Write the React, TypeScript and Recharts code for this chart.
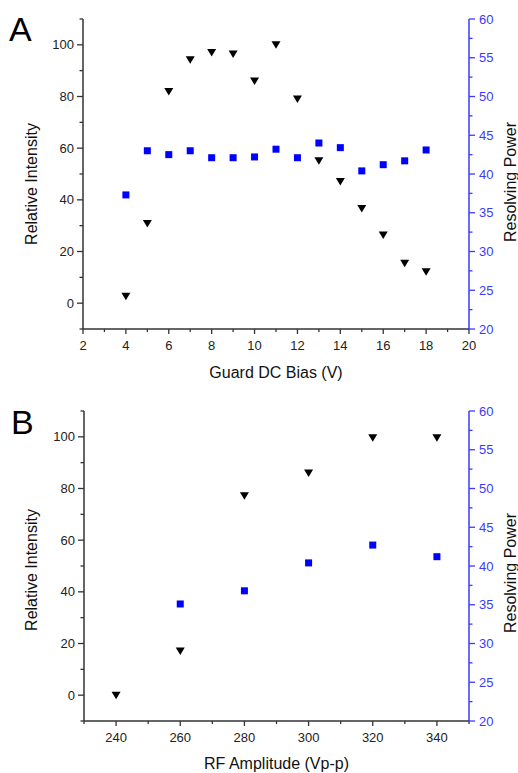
import React from "react";
import { ScatterChart, Scatter, XAxis, YAxis, Label } from "recharts";

// Panel A: guard DC bias sweep
const biasVolts = [4, 5, 6, 7, 8, 9, 10, 11, 12, 13, 14, 15, 16, 17, 18];
const biasIntensity = [2.7, 30.8, 81.9, 94.2, 97, 96.5, 86, 100, 79, 55.1, 47.1, 36.6, 26.4, 15.5, 12.2];
const biasResolving = [37.3, 43.0, 42.5, 43.0, 42.1, 42.1, 42.2, 43.2, 42.1, 44.0, 43.4, 40.4, 41.2, 41.7, 43.1];

// Panel B: RF amplitude sweep
const rfVolts = [240, 260, 280, 300, 320, 340];
const rfIntensity = [0, 17.1, 77.2, 86, 99.6, 99.6];
const rfResolving = [null, 35.1, 36.8, 40.4, 42.7, 41.2];

const biasTicks = [2, 3, 4, 5, 6, 7, 8, 9, 10, 11, 12, 13, 14, 15, 16, 17, 18, 19, 20];
const rfTicks = [230, 240, 250, 260, 270, 280, 290, 300, 310, 320, 330, 340, 350];
const intensityTicks = [-10, 0, 10, 20, 30, 40, 50, 60, 70, 80, 90, 100, 110];
const resolvingTicks = [20, 22.5, 25, 27.5, 30, 32.5, 35, 37.5, 40, 42.5, 45, 47.5, 50, 52.5, 55, 57.5, 60];

const FONT = "'Liberation Sans', Arial, sans-serif";
const AXIS = "#333";
const BLUE = "#3a3aff";

const toPoints = (xs: number[], ys: (number | null)[]) =>
  xs.map((x, i) => ({ x, y: ys[i] })).filter((p) => p.y !== null);

const Triangle = (props: any) => {
  const { cx, cy } = props;
  return (
    <polygon
      points={`${cx - 4.5},${cy - 3.5} ${cx + 4.5},${cy - 3.5} ${cx},${cy + 4}`}
      fill="#000"
    />
  );
};

const Square = (props: any) => {
  const { cx, cy } = props;
  return <rect x={cx - 3.5} y={cy - 3.5} width={7} height={7} fill="#0000ff" />;
};

function makeLeftTick(edge: number, top: number, bottom: number) {
  return (props: any) => {
    const { y, payload } = props;
    const v = payload.value;
    if (y < top - 0.5 || y > bottom + 0.5) return <g />;
    const major = v % 20 === 0;
    return (
      <g>
        <line x1={edge} x2={edge - (major ? 6 : 3.5)} y1={y} y2={y} stroke={AXIS} strokeWidth={1.3} />
        {major && v >= 0 && v <= 100 && (
          <text x={edge - 9} y={y} dy="0.35em" textAnchor="end" fontSize={13} fontFamily={FONT} fill="#222">
            {v}
          </text>
        )}
      </g>
    );
  };
}

function makeRightTick(edge: number) {
  return (props: any) => {
    const { y, payload } = props;
    const v = payload.value;
    const major = v % 5 === 0;
    return (
      <g>
        <line x1={edge} x2={edge + (major ? 6 : 3.5)} y1={y} y2={y} stroke={BLUE} strokeWidth={1.3} />
        {major && (
          <text x={edge + 10} y={y} dy="0.35em" textAnchor="start" fontSize={13} fontFamily={FONT} fill={BLUE}>
            {v}
          </text>
        )}
      </g>
    );
  };
}

function makeBottomTick(edge: number, step: number) {
  return (props: any) => {
    const { x, payload } = props;
    const v = payload.value;
    const major = v % step === 0;
    return (
      <g>
        <line x1={x} x2={x} y1={edge} y2={edge + (major ? 5 : 3)} stroke={AXIS} strokeWidth={1.3} />
        {major && (
          <text x={x} y={edge + 16} dy="0.35em" textAnchor="middle" fontSize={13} fontFamily={FONT} fill="#222">
            {v}
          </text>
        )}
      </g>
    );
  };
}

function makeTopTick(edge: number, step: number) {
  return (props: any) => {
    const { x, payload } = props;
    const major = payload.value % step === 0;
    return <line x1={x} x2={x} y1={edge} y2={edge + (major ? 6 : 3)} stroke={AXIS} strokeWidth={1.3} />;
  };
}

const xTitle = (text: string, dy: number) => (props: any) => {
  const vb = props.viewBox;
  return (
    <text x={vb.x + vb.width / 2} y={vb.y + dy} dy="0.35em" textAnchor="middle" fontSize={16} fontFamily={FONT} fill="#111">
      {text}
    </text>
  );
};

const yTitle = (text: string, cx: number, cy: number) => () => (
  <text
    x={cx}
    y={cy}
    dy="0.35em"
    textAnchor="middle"
    fontSize={16}
    fontFamily={FONT}
    fill="#111"
    transform={`rotate(-90, ${cx}, ${cy})`}
  >
    {text}
  </text>
);

interface PanelProps {
  letter: string;
  height: number;
  top: number;
  left: number;
  xHeight: number;
  xDomain: [number, number];
  xTicks: number[];
  xStep: number;
  xLabel: string;
  xLabelDy: number;
  leftTitleY: number;
  rightTitleY: number;
  letterX: number;
  letterY: number;
  intensity: { x: number; y: number | null }[];
  resolving: { x: number; y: number | null }[];
}

const RIGHT = 469;

function Panel(p: PanelProps) {
  const bottom = p.height - p.xHeight;
  return (
    <div style={{ position: "relative", width: 518, height: p.height }}>
      <ScatterChart width={518} height={p.height} margin={{ top: p.top, right: 0, bottom: 0, left: 0 }}>
        <XAxis
          xAxisId="main"
          dataKey="x"
          type="number"
          domain={p.xDomain}
          ticks={p.xTicks}
          interval={0}
          allowDataOverflow
          height={p.xHeight}
          axisLine={{ stroke: AXIS, strokeWidth: 1.5 }}
          tickLine={false}
          tick={makeBottomTick(bottom, p.xStep)}
        >
          <Label content={xTitle(p.xLabel, p.xLabelDy)} />
        </XAxis>
        <XAxis
          xAxisId="top"
          orientation="top"
          type="number"
          domain={p.xDomain}
          ticks={p.xTicks}
          interval={0}
          allowDataOverflow
          height={0}
          axisLine={{ stroke: AXIS, strokeWidth: 1.5 }}
          tickLine={false}
          tick={makeTopTick(p.top, p.xStep)}
        />
        <YAxis
          yAxisId="left"
          dataKey="y"
          type="number"
          domain={[-10, 110]}
          ticks={intensityTicks}
          interval={0}
          allowDataOverflow
          width={p.left}
          axisLine={{ stroke: AXIS, strokeWidth: 1.5 }}
          tickLine={false}
          tick={makeLeftTick(p.left, p.top, bottom)}
        >
          <Label content={yTitle("Relative Intensity", 31, p.leftTitleY)} />
        </YAxis>
        <YAxis
          yAxisId="right"
          orientation="right"
          dataKey="y"
          type="number"
          domain={[20, 60]}
          ticks={resolvingTicks}
          interval={0}
          allowDataOverflow
          width={518 - RIGHT}
          axisLine={{ stroke: BLUE, strokeWidth: 1.5 }}
          tickLine={false}
          tick={makeRightTick(RIGHT)}
        >
          <Label content={yTitle("Resolving Power", 510, p.rightTitleY)} />
        </YAxis>
        <Scatter
          xAxisId="main"
          yAxisId="left"
          data={p.intensity}
          shape={Triangle}
          isAnimationActive={false}
        />
        <Scatter
          xAxisId="main"
          yAxisId="right"
          data={p.resolving}
          shape={Square}
          isAnimationActive={false}
        />
      </ScatterChart>
      <div
        style={{
          position: "absolute",
          left: p.letterX,
          top: p.letterY,
          fontFamily: FONT,
          fontSize: 34,
          lineHeight: "34px",
          color: "#000",
        }}
      >
        {p.letter}
      </div>
    </div>
  );
}

export default function App() {
  return (
    <div style={{ position: "absolute", left: 0, top: 0, width: 518, height: 773, background: "#fff" }}>
      <Panel
        letter="A"
        height={390}
        top={19}
        left={83}
        xHeight={61}
        xDomain={[2, 20]}
        xTicks={biasTicks}
        xStep={2}
        xLabel="Guard DC Bias (V)"
        xLabelDy={43}
        leftTitleY={184}
        rightTitleY={182}
        letterX={9}
        letterY={12}
        intensity={toPoints(biasVolts, biasIntensity)}
        resolving={toPoints(biasVolts, biasResolving)}
      />
      <Panel
        letter="B"
        height={383}
        top={21}
        left={84}
        xHeight={52}
        xDomain={[230, 350]}
        xTicks={rfTicks}
        xStep={20}
        xLabel="RF Amplitude (Vp-p)"
        xLabelDy={42}
        leftTitleY={180}
        rightTitleY={183}
        letterX={11}
        letterY={15}
        intensity={toPoints(rfVolts, rfIntensity)}
        resolving={toPoints(rfVolts, rfResolving)}
      />
    </div>
  );
}
